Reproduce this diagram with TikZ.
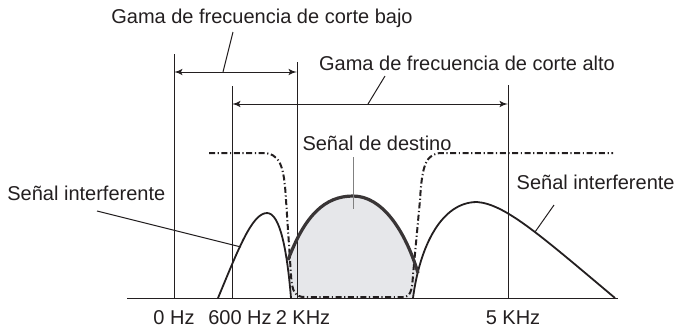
\documentclass[tikz,border=0pt]{standalone}
\usepackage{fontspec}
\setmainfont{Liberation Sans}
\usepackage{tikz}
\usetikzlibrary{arrows}
\definecolor{ink}{RGB}{35,31,32}
\definecolor{sigfill}{RGB}{230,231,234}
\tikzset{caption/.style = {inner sep = 0pt, text = ink, font = \fontsize{10}{12}\selectfont}}
\tikzset{guide/.style = {draw = ink, line width = 0.5pt}}
\tikzset{edge/.style = {<->,> = latex', draw = ink, line width = 0.5pt}}
\tikzset{hump/.style = {draw = ink, line width = 0.9pt}}
\tikzset{target/.style = {draw = ink!90, line width = 1.6pt}}
\tikzset{filter/.style = {draw = ink, line width = 1pt, dash pattern = on 3pt off 1.3pt on 0.6pt off 1.3pt}}

\begin{document}
\begin{tikzpicture}[x = 0.5pt, y = -0.5pt]
			\useasboundingbox (0, 0) rectangle (678, 329);

			% axis and frequency marks
			\coordinate (o0) at (127, 298);
			\coordinate (o1) at (618, 298);
			\coordinate (f0t) at (174, 54);
			\coordinate (f0b) at (174, 298);
			\coordinate (f6t) at (232, 86);
			\coordinate (f6b) at (232, 298);
			\coordinate (f2t) at (297, 62);
			\coordinate (f2b) at (297, 298);
			\coordinate (f5t) at (508, 85);
			\coordinate (f5b) at (508, 298);

			\node[caption] (h0) at (174, 318) {0 Hz};
			\node[caption] (h6) at (240, 318) {600 Hz};
			\node[caption] (h2) at (303, 318) {2 KHz};
			\node[caption] (h5) at (513, 318) {5 KHz};

			% ranges
			\coordinate (la) at (174, 72);
			\coordinate (lb) at (297, 72);
			\coordinate (ha) at (232, 104);
			\coordinate (hb) at (508, 104);

			\node[caption] (low) at (262, 18) {Gama de frecuencia de corte bajo};
			\node[caption] (high) at (467, 63) {Gama de frecuencia de corte alto};
			\node[caption] (dest) at (377, 143) {Señal de destino};
			\node[caption, anchor = west] (intl) at (7, 193) {Señal interferente};
			\node[caption, anchor = east] (intr) at (675, 182) {Señal interferente};

			\coordinate (lowp) at (233, 32);
			\coordinate (lowq) at (223, 72);
			\coordinate (highp) at (385, 76);
			\coordinate (highq) at (368, 104);
			\coordinate (destp) at (353, 157);
			\coordinate (destq) at (353, 209);
			\coordinate (intlp) at (97, 211);
			\coordinate (intlq) at (241, 247);
			\coordinate (intrp) at (554, 205);
			\coordinate (intrq) at (535, 232);

			% target signal area
			\fill[sigfill] (288, 260) .. controls (305, 215) and (325, 196) .. (353, 196)
				.. controls (382, 196) and (405, 230) .. (418, 273) -- (413, 298) -- (291, 298) -- cycle;

			\draw[guide] (o0) -- (o1);
			\draw[guide] (f0t) -- (f0b);
			\draw[guide] (f6t) -- (f6b);
			\draw[guide] (f2t) -- (f2b);
			\draw[guide] (f5t) -- (f5b);
			\draw[edge] (la) -- (lb);
			\draw[edge] (ha) -- (hb);

			% filter
			\draw[filter] (209, 153) -- (262, 153) .. controls (280, 153) and (284, 165) .. (286, 200)
				-- (291, 275) .. controls (292, 292) and (295, 297) .. (305, 297) -- (403, 297)
				.. controls (410, 297) and (412, 292) .. (413, 275) -- (420, 200)
				.. controls (422, 165) and (426, 153) .. (442, 153) -- (613, 153);

			% signals
			\draw[hump] (218, 298) .. controls (238, 250) and (252, 213) .. (267, 213)
				.. controls (280, 213) and (287, 250) .. (291, 298);
			\draw[hump] (413, 298) .. controls (420, 245) and (442, 202) .. (477, 202)
				.. controls (505, 204) and (540, 235) .. (615, 298);
			\draw[target] (288, 260) .. controls (305, 215) and (325, 196) .. (353, 196)
				.. controls (382, 196) and (405, 230) .. (418, 273);

			% leaders
			\draw[guide] (lowp) -- (lowq);
			\draw[guide] (highp) -- (highq);
			\draw[draw = gray, line width = 0.5pt] (destp) -- (destq);
			\draw[guide] (intlp) -- (intlq);
			\draw[guide] (intrp) -- (intrq);
		\end{tikzpicture}
\end{document}
